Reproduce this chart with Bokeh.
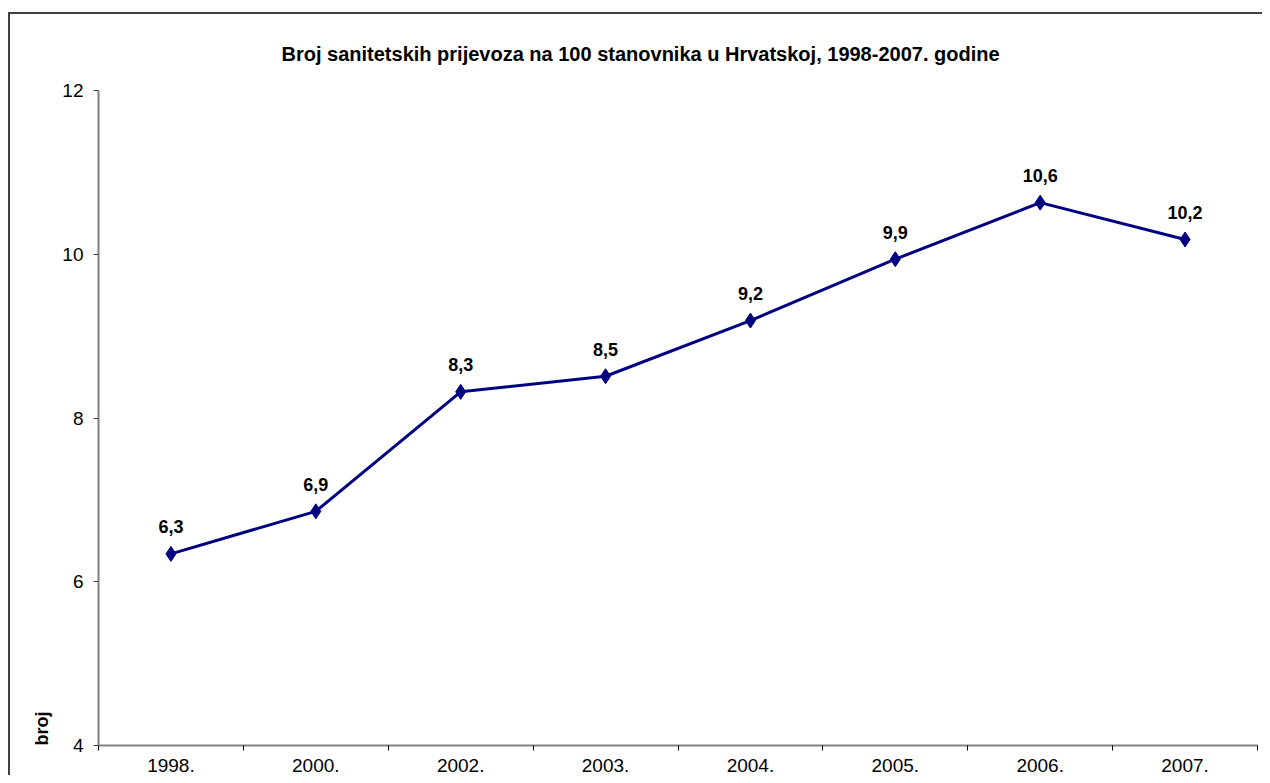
from bokeh.plotting import figure
from bokeh.models import (ColumnDataSource, Range1d, FixedTicker, LinearAxis,
                          LabelSet, Title)
from bokeh.core.properties import value
from bokeh.embed import file_html
from bokeh.resources import INLINE

# ---- data ----
years = ["1998.", "2000.", "2002.", "2003.", "2004.", "2005.", "2006.", "2007."]
values = [6.34, 6.86, 8.32, 8.51, 9.19, 9.94, 10.63, 10.18]
value_labels = ["6,3", "6,9", "8,3", "8,5", "9,2", "9,9", "10,6", "10,2"]
y_ticks = [4, 6, 8, 10, 12]
title_text = "Broj sanitetskih prijevoza na 100 stanovnika u Hrvatskoj, 1998-2007. godine"
y_label = "broj"

FONT = "Liberation Sans"

pos = [i + 0.5 for i in range(len(years))]
src = ColumnDataSource(dict(x=pos, y=values, lab=value_labels))

p = figure(width=1252, height=761, output_backend="svg", toolbar_location=None,
           x_range=Range1d(0, len(years)), y_range=Range1d(4, 12),
           x_axis_type=None, y_axis_type=None,
           min_border_left=88, min_border_right=7, min_border_top=76,
           min_border_bottom=32)
p.margin = (12, 0, 0, 8)
p.styles = {"border-left": "2px solid #404040", "border-top": "2px solid #404040",
            "box-sizing": "content-box"}
p.outline_line_color = None
p.xgrid.visible = False
p.ygrid.visible = False
p.background_fill_color = "white"
p.border_fill_color = "white"

# title
t = Title(text=title_text, align="left", offset=183, standoff=52,
          text_font=FONT, text_font_size="20px", text_font_style="bold",
          text_color="black")
p.add_layout(t, "above")

# y axis
yax = LinearAxis(ticker=FixedTicker(ticks=y_ticks, minor_ticks=[]))
yax.axis_line_color = "#808080"
yax.axis_line_width = 2
yax.major_tick_line_color = "#404040"
yax.major_tick_in = 0
yax.major_tick_out = 5
yax.minor_tick_line_color = None
yax.major_label_text_font = FONT
yax.major_label_text_font_size = "19px"
yax.major_label_text_color = "black"
yax.major_label_standoff = 10
p.add_layout(yax, "left")

# y axis title, bottom-aligned like the original
yt = Title(text=y_label, align="left", offset=0, standoff=15,
           text_font=FONT, text_font_size="18px", text_font_style="bold",
           text_color="black")
p.add_layout(yt, "left")

# x axis: labels at category centres, ticks at category boundaries
xax = LinearAxis(ticker=FixedTicker(ticks=pos, minor_ticks=list(range(len(years) + 1))))
xax.major_label_overrides = {pp: yy for pp, yy in zip(pos, years)}
xax.axis_line_color = "#808080"
xax.axis_line_width = 2
xax.major_tick_line_color = None
xax.minor_tick_line_color = "black"
xax.minor_tick_in = 0
xax.minor_tick_out = 5
xax.major_label_text_font = FONT
xax.major_label_text_font_size = "19px"
xax.major_label_text_color = "black"
xax.major_label_standoff = 7
p.add_layout(xax, "below")

p.line("x", "y", source=src, line_color="#000080", line_width=3)
p.scatter("x", "y", source=src, marker="diamond", size=15,
          fill_color="#000080", line_color="#000080")

labels = LabelSet(x="x", y="y", text="lab", source=src, y_offset=27,
                  text_align="center", text_baseline="middle",
                  text_font=value(FONT), text_font_size=value("18px"),
                  text_font_style="bold", text_color="black")
p.add_layout(labels)

open("out.html", "w").write(file_html(p, INLINE))
